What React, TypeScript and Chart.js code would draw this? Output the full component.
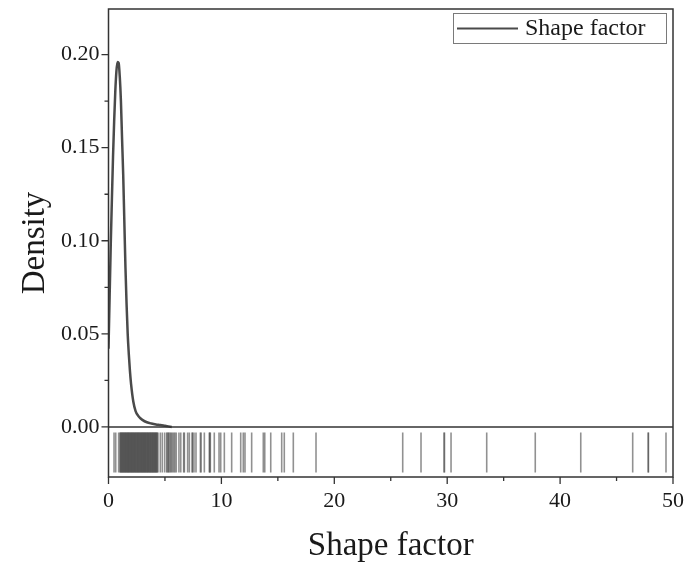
import React, { useEffect, useRef } from 'react';
import { Chart, registerables } from 'chart.js';

Chart.register(...registerables);

// ---- Data ----
const seriesName = 'Shape factor';
const xTitle = 'Shape factor';
const yTitle = 'Density';

const kdeX = [0, 0.1, 0.2, 0.3, 0.4, 0.5, 0.6, 0.7, 0.8, 0.9, 1.0, 1.1, 1.2, 1.3, 1.4, 1.5, 1.6, 1.7, 1.8, 1.9, 2.0, 2.2, 2.4, 2.6, 2.8, 3.0, 3.4, 3.8, 4.2, 4.6, 5.0, 5.6];
const kdeY = [0.042, 0.07, 0.098, 0.122, 0.145, 0.164, 0.18, 0.191, 0.196, 0.1955, 0.188, 0.175, 0.155, 0.136, 0.111, 0.086, 0.066, 0.05, 0.039, 0.03, 0.023, 0.0135, 0.0085, 0.0062, 0.0048, 0.0038, 0.0025, 0.0018, 0.0013, 0.001, 0.0006, 0.0];

const rugValues = [
  0.49, 0.64, 0.9,
  1.02, 1.06, 1.11, 1.15, 1.2, 1.24, 1.29, 1.33, 1.38, 1.43, 1.47, 1.52, 1.56, 1.61, 1.66, 1.7, 1.75, 1.79,
  1.84, 1.88, 1.93, 1.98, 2.02, 2.07, 2.11, 2.16, 2.2, 2.25, 2.3, 2.34, 2.39, 2.43, 2.48, 2.53, 2.57, 2.62,
  2.66, 2.71, 2.75, 2.8, 2.85, 2.89, 2.94, 2.98, 3.03, 3.08, 3.12, 3.17, 3.21, 3.26, 3.3, 3.35, 3.4, 3.44,
  3.49, 3.53, 3.58, 3.63, 3.67, 3.72, 3.76, 3.81, 3.86, 3.9, 3.95, 3.99, 4.04, 4.09, 4.13, 4.18, 4.22, 4.27,
  4.32, 4.38,
  4.59, 4.77, 4.98, 5.18, 5.19, 5.33, 5.34, 5.47, 5.56, 5.66, 5.77, 5.88, 6.0,
  6.24, 6.4, 6.66, 6.72, 7.01, 7.16, 7.42, 7.43, 7.57, 7.75, 8.14, 8.2, 8.49,
  8.93, 8.97, 9.02, 9.37, 9.79, 9.94, 10.26, 10.91, 11.71, 11.94, 12.09, 12.68,
  13.71, 13.84, 14.37, 15.34, 15.57, 16.37, 18.38,
  26.06, 27.68, 29.72, 29.76, 30.34, 33.5, 37.8, 41.83, 46.43, 47.81, 47.82, 49.38,
];
const rugLevel = -0.0137;

const xTicks = [0, 10, 20, 30, 40, 50];
const xMinorTicks = [5, 15, 25, 35, 45];
const yTicks = [0, 0.05, 0.1, 0.15, 0.2];
const yMinorTicks = [0.025, 0.075, 0.125, 0.175];

const X_MIN = 0;
const X_MAX = 50;
const Y_MIN = -0.0269;
const Y_MAX = 0.2245;

const FONT = "'Liberation Serif', 'DejaVu Serif', serif";
const LINE_COLOR = '#4a4a4a';
const AXIS_COLOR = '#333333';

const zeroPad = (s: any) => {
  s.paddingTop = 0;
  s.paddingBottom = 0;
  s.paddingLeft = 0;
  s.paddingRight = 0;
};

const framePlugin = {
  id: 'frameTicksLegend',
  afterDraw(chart: any) {
    const { ctx, chartArea } = chart;
    const xs = chart.scales.x;
    const ys = chart.scales.y;
    const { left, right, top, bottom } = chartArea;
    ctx.save();
    ctx.strokeStyle = AXIS_COLOR;
    ctx.lineWidth = 1.5;
    ctx.strokeRect(left, top, right - left, bottom - top);
    // zero line
    const y0 = ys.getPixelForValue(0);
    ctx.beginPath();
    ctx.moveTo(left, y0);
    ctx.lineTo(right, y0);
    ctx.stroke();
    // ticks
    ctx.lineWidth = 1.3;
    ctx.beginPath();
    xTicks.forEach((v) => {
      const x = xs.getPixelForValue(v);
      ctx.moveTo(x, bottom);
      ctx.lineTo(x, bottom + 7);
    });
    xMinorTicks.forEach((v) => {
      const x = xs.getPixelForValue(v);
      ctx.moveTo(x, bottom);
      ctx.lineTo(x, bottom + 4);
    });
    yTicks.forEach((v) => {
      const y = ys.getPixelForValue(v);
      ctx.moveTo(left, y);
      ctx.lineTo(left - 7, y);
    });
    yMinorTicks.forEach((v) => {
      const y = ys.getPixelForValue(v);
      ctx.moveTo(left, y);
      ctx.lineTo(left - 4, y);
    });
    ctx.stroke();
    // legend
    const bx = 453.5, by = 13.5, bw = 213, bh = 30;
    ctx.fillStyle = '#ffffff';
    ctx.fillRect(bx, by, bw, bh);
    ctx.strokeStyle = '#7a7a7a';
    ctx.lineWidth = 1;
    ctx.strokeRect(bx, by, bw, bh);
    ctx.strokeStyle = LINE_COLOR;
    ctx.lineWidth = 2;
    ctx.beginPath();
    ctx.moveTo(457, 28.5);
    ctx.lineTo(518, 28.5);
    ctx.stroke();
    ctx.fillStyle = '#1a1a1a';
    ctx.font = `24px ${FONT}`;
    ctx.textBaseline = 'middle';
    ctx.textAlign = 'left';
    ctx.fillText(seriesName, 525, 29);
    ctx.restore();
  },
};

export default function App() {
  const ref = useRef<HTMLCanvasElement | null>(null);
  useEffect(() => {
    if (!ref.current) return;
    const chart = new Chart(ref.current, {
      type: 'scatter',
      data: {
        datasets: [
          {
            label: seriesName,
            data: kdeX.map((x, i) => ({ x, y: kdeY[i] })),
            showLine: true,
            borderColor: LINE_COLOR,
            borderWidth: 2.5,
            pointRadius: 0,
            cubicInterpolationMode: 'monotone',
            fill: false,
          } as any,
          {
            label: 'rug',
            data: rugValues.map((x) => ({ x, y: rugLevel })),
            showLine: false,
            pointStyle: 'line',
            rotation: 90,
            pointRadius: 20,
            pointHoverRadius: 20,
            borderColor: 'rgba(72,72,72,0.6)',
            backgroundColor: 'rgba(72,72,72,0.6)',
            borderWidth: 1.6,
          } as any,
        ],
      },
      options: {
        responsive: false,
        animation: false,
        events: [],
        layout: { autoPadding: false, padding: { top: 9, right: 16, left: 0, bottom: 0 } },
        plugins: {
          legend: { display: false },
          tooltip: { enabled: false },
        },
        scales: {
          x: {
            type: 'linear',
            min: X_MIN,
            max: X_MAX,
            afterBuildTicks: (s: any) => {
              s.ticks = xTicks.map((v) => ({ value: v }));
            },
            afterFit: (s: any) => {
              s.height = 90;
              zeroPad(s);
            },
            grid: { display: false, drawTicks: false },
            border: { display: false },
            ticks: {
              padding: 11,
              color: '#1a1a1a',
              font: { family: FONT, size: 22 },
              maxRotation: 0,
              callback: (v: any) => String(v),
            },
            title: {
              display: true,
              text: xTitle,
              color: '#1a1a1a',
              font: { family: FONT, size: 33 },
              padding: { top: 0, bottom: 1 },
            },
          },
          y: {
            type: 'linear',
            min: Y_MIN,
            max: Y_MAX,
            afterBuildTicks: (s: any) => {
              s.ticks = yTicks.map((v) => ({ value: v }));
            },
            afterFit: (s: any) => {
              s.width = 108.5;
              zeroPad(s);
            },
            grid: { display: false, drawTicks: false },
            border: { display: false },
            ticks: {
              padding: 9,
              color: '#1a1a1a',
              font: { family: FONT, size: 22 },
              callback: (v: any) => Number(v).toFixed(2),
            },
            title: {
              display: true,
              text: yTitle,
              color: '#1a1a1a',
              font: { family: FONT, size: 33 },
              padding: { top: 16, bottom: 0 },
            },
          },
        },
      },
      plugins: [framePlugin],
    });
    return () => chart.destroy();
  }, []);
  return (
    <div style={{ position: 'fixed', left: 0, top: 0, width: 689, height: 567, background: '#fff' }}>
      <canvas ref={ref} width={689} height={567} style={{ display: 'block' }} />
    </div>
  );
}
